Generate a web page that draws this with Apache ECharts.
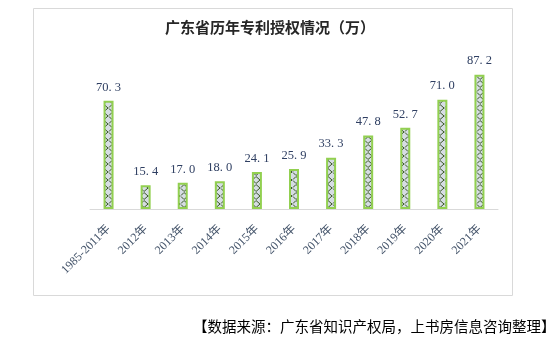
<!DOCTYPE html>
<html><head><meta charset="utf-8">
<script src="https://cdn.jsdelivr.net/npm/echarts@6/dist/echarts.min.js"></script>
<style>html,body{margin:0;padding:0;background:#fff}#c{width:556px;height:342px}</style>
</head><body><div id="c"></div>
<script>
var categories = ['1985-2011年','2012年','2013年','2014年','2015年','2016年','2017年','2018年','2019年','2020年','2021年'];
var values = [70.3, 15.4, 17.0, 18.0, 24.1, 25.9, 33.3, 47.8, 52.7, 71.0, 87.2];
var titleText = '广东省历年专利授权情况（万）';
var sourceText = '【数据来源：广东省知识产权局，上书房信息咨询整理】';

function makePattern(){
  var c = document.createElement('canvas');
  c.width = 8; c.height = 8;
  var g = c.getContext('2d');
  g.fillStyle = '#D6DCE4'; g.fillRect(0,0,8,8);
  g.strokeStyle = '#375623'; g.lineWidth = 1;
  g.beginPath();
  g.moveTo(0,0.5); g.lineTo(4,4); g.lineTo(0,7.5);
  g.moveTo(8,0.5); g.lineTo(5,3.5);
  g.moveTo(8,7.5); g.lineTo(5,4.5);
  g.stroke();
  return c;
}
var chart = echarts.init(document.getElementById('c'), null, {renderer:'canvas'});
chart.setOption({
  animation:false,
  graphic:[
    {type:'rect', shape:{x:33.5,y:8.5,width:479,height:287}, style:{fill:'none',stroke:'#D9D9D9',lineWidth:1}, z:-1},
    {type:'text', x:270, y:27, style:{text:titleText, font:'bold 15px "Noto Sans CJK SC"', fill:'#262626', textAlign:'center', textVerticalAlign:'middle'}},
    {type:'text', x:193, y:326, style:{text:sourceText, font:'14.5px "Noto Sans CJK SC"', fill:'#000', textAlign:'left', textVerticalAlign:'middle'}}
  ],
  grid:{left:90, right:58, top:55, bottom:133},
  xAxis:{type:'category', data:categories,
    axisLine:{lineStyle:{color:'#D9D9D9',width:1}}, axisTick:{show:false},
    axisLabel:{rotate:45, margin:18, interval:0, color:'#44546A', fontFamily:'"Liberation Serif","Noto Sans CJK SC",serif', fontSize:12}},
  yAxis:{type:'value', min:0, max:100, show:false, splitLine:{show:false}},
  series:[{type:'bar', data:values, barWidth:10,
    itemStyle:{color:{image:makePattern(), repeat:'repeat'}, borderColor:'#92D050', borderWidth:2},
    label:{show:true, position:'top', distance:7, color:'#2F3F62', fontFamily:'"Liberation Serif",serif', fontSize:12.5,
      formatter:function(p){return p.value.toFixed(1).replace('.', '. ');}}
  }]
});
</script></body></html>
